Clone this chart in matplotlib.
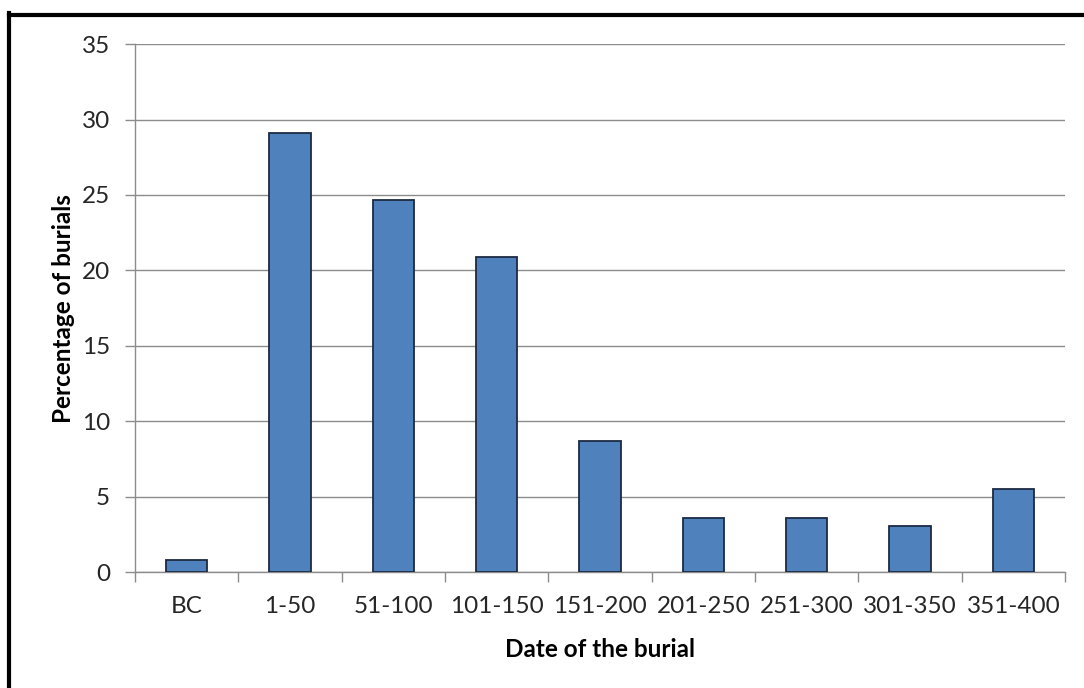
import matplotlib.pyplot as plt
import matplotlib.lines as mlines
import numpy as np

periods = ["BC", "1-50", "51-100", "101-150", "151-200",
           "201-250", "251-300", "301-350", "351-400"]
percent = [0.8, 29.1, 24.7, 20.9, 8.7, 3.6, 3.6, 3.1, 5.5]
y_ticks = [0, 5, 10, 15, 20, 25, 30, 35]

plt.rcParams['font.family'] = ['Lato', 'DejaVu Sans']

fig = plt.figure(figsize=(10.84, 6.88), dpi=100)
ax = fig.add_axes([0.1245, 0.168, 0.858, 0.768])

x = np.arange(len(periods))
ax.bar(x, percent, width=0.4, color="#4F81BD", edgecolor="#1B2A41",
       linewidth=1.3, zorder=3)

ax.set_xlim(-0.5, len(periods) - 0.5)
ax.set_ylim(0, 35)
ax.set_yticks(y_ticks)
ax.yaxis.grid(True, color="#8C8C8C", linewidth=1.0, zorder=0)

ax.set_xticks(x)
ax.set_xticklabels(periods)
ax.set_xticks(np.arange(-0.5, len(periods)), minor=True)
ax.tick_params(axis='x', which='major', length=0, pad=17,
               labelsize=17.5, labelcolor="#262626")
ax.tick_params(axis='x', which='minor', length=7, color="#8C8C8C", width=1)
ax.tick_params(axis='y', length=7, color="#8C8C8C", width=1, pad=11,
               labelsize=17.5, labelcolor="#262626")

for s in ["top", "right"]:
    ax.spines[s].set_visible(False)
for s in ["left", "bottom"]:
    ax.spines[s].set_color("#8C8C8C")
    ax.spines[s].set_linewidth(1.0)

ax.set_xlabel("Date of the burial", fontsize=17.5, fontweight="bold", labelpad=15)
ax.set_ylabel("Percentage of burials", fontsize=17.5, fontweight="bold", labelpad=5)

# outer frame (top and left only)
fig.add_artist(mlines.Line2D([0.008, 1.0], [1 - 14.5 / 688, 1 - 14.5 / 688],
                             color="black", linewidth=3, transform=fig.transFigure))
fig.add_artist(mlines.Line2D([9 / 1084, 9 / 1084], [0, 1 - 13 / 688],
                             color="black", linewidth=3, transform=fig.transFigure))

fig.savefig("out.png", dpi=100)
